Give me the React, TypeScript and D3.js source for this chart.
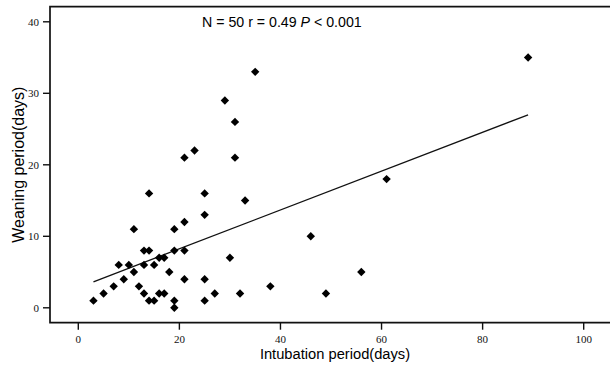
import React from "react";
import * as d3 from "d3";

// Intubation period (days)
const intubation: number[] = [
  89, 35, 29, 31, 21, 23, 31, 14, 25, 33, 25, 21, 11, 19, 13, 14, 19, 21, 16, 17, 30,
  8, 10, 13, 15, 11, 18, 9, 21, 25, 7, 12, 5, 13, 16, 17, 27, 32, 3, 14, 15, 19, 25, 19,
  61, 46, 56, 38, 49,
];
// Weaning period (days)
const weaning: number[] = [
  35, 33, 29, 26, 21, 22, 21, 16, 16, 15, 13, 12, 11, 11, 8, 8, 8, 8, 7, 7, 7,
  6, 6, 6, 6, 5, 5, 4, 4, 4, 3, 3, 2, 2, 2, 2, 2, 2, 1, 1, 1, 1, 1, 0,
  18, 10, 5, 3, 2,
];

const xTicks = [0, 20, 40, 60, 80, 100];
const yTicks = [0, 10, 20, 30, 40];

// regression line
const fitRange = [3, 89];
const fitIntercept = 2.825;
const fitSlope = 0.2716;

const xTitle = "Intubation period(days)";
const yTitle = "Weaning period(days)";

export default function App() {
  const W = 610;
  const H = 367;
  const x = d3.scaleLinear().domain([0, 100]).range([78.3, 583.7]);
  const y = d3.scaleLinear().domain([0, 40]).range([307.8, 21.8]);
  const left = 50;
  const top = 6.7;
  const bottom = 322.7;

  const diamond = (cx: number, cy: number, r: number) =>
    `M${cx},${cy - r}L${cx + r},${cy}L${cx},${cy + r}L${cx - r},${cy}Z`;

  const line = d3
    .line<number>()
    .x((d) => x(d))
    .y((d) => y(fitIntercept + fitSlope * d));

  const tickFont = "'Liberation Serif', 'Times New Roman', serif";
  const sans = "'Liberation Sans', Arial, sans-serif";

  return (
    <svg
      width={W}
      height={H}
      style={{ position: "absolute", left: 0, top: 0, background: "#fff" }}
    >
      <rect x={0} y={0} width={W} height={H} fill="#fff" />
      {/* frame */}
      <path
        d={`M${W + 2},${top}H${left}V${bottom}H${W + 2}`}
        fill="none"
        stroke="#111"
        strokeWidth={1.7}
      />
      {/* y ticks */}
      {yTicks.map((t) => (
        <g key={"y" + t}>
          <line x1={left - 7} x2={left} y1={y(t)} y2={y(t)} stroke="#111" strokeWidth={1.4} />
          <text
            x={left - 11}
            y={y(t)}
            dy="0.35em"
            textAnchor="end"
            fontFamily={tickFont}
            fontSize={11}
            fill="#111"
          >
            {t}
          </text>
        </g>
      ))}
      {/* x ticks */}
      {xTicks.map((t) => (
        <g key={"x" + t}>
          <line x1={x(t)} x2={x(t)} y1={bottom} y2={bottom + 7} stroke="#111" strokeWidth={1.4} />
          <text
            x={x(t)}
            y={343}
            textAnchor="middle"
            fontFamily={tickFont}
            fontSize={11}
            fill="#111"
          >
            {t}
          </text>
        </g>
      ))}
      {/* regression line */}
      <path d={line(fitRange) || ""} fill="none" stroke="#111" strokeWidth={1.3} />
      {/* points */}
      {intubation.map((d, i) => (
        <path key={i} d={diamond(x(d), y(weaning[i]), 4.2)} fill="#000" />
      ))}
      {/* annotation */}
      <text x={202} y={26.7} fontFamily={sans} fontSize={14.2} fill="#000">
        <tspan>N = 50  r = 0.49 </tspan>
        <tspan fontStyle="italic">P</tspan>
        <tspan> &lt; 0.001</tspan>
      </text>
      {/* axis titles */}
      <text x={335} y={359} textAnchor="middle" fontFamily={sans} fontSize={14.7} fill="#000">
        {xTitle}
      </text>
      <text
        transform={`translate(24,${(top + bottom) / 2}) rotate(-90)`}
        textAnchor="middle"
        fontFamily={sans}
        fontSize={16}
        fill="#000"
      >
        {yTitle}
      </text>
    </svg>
  );
}
